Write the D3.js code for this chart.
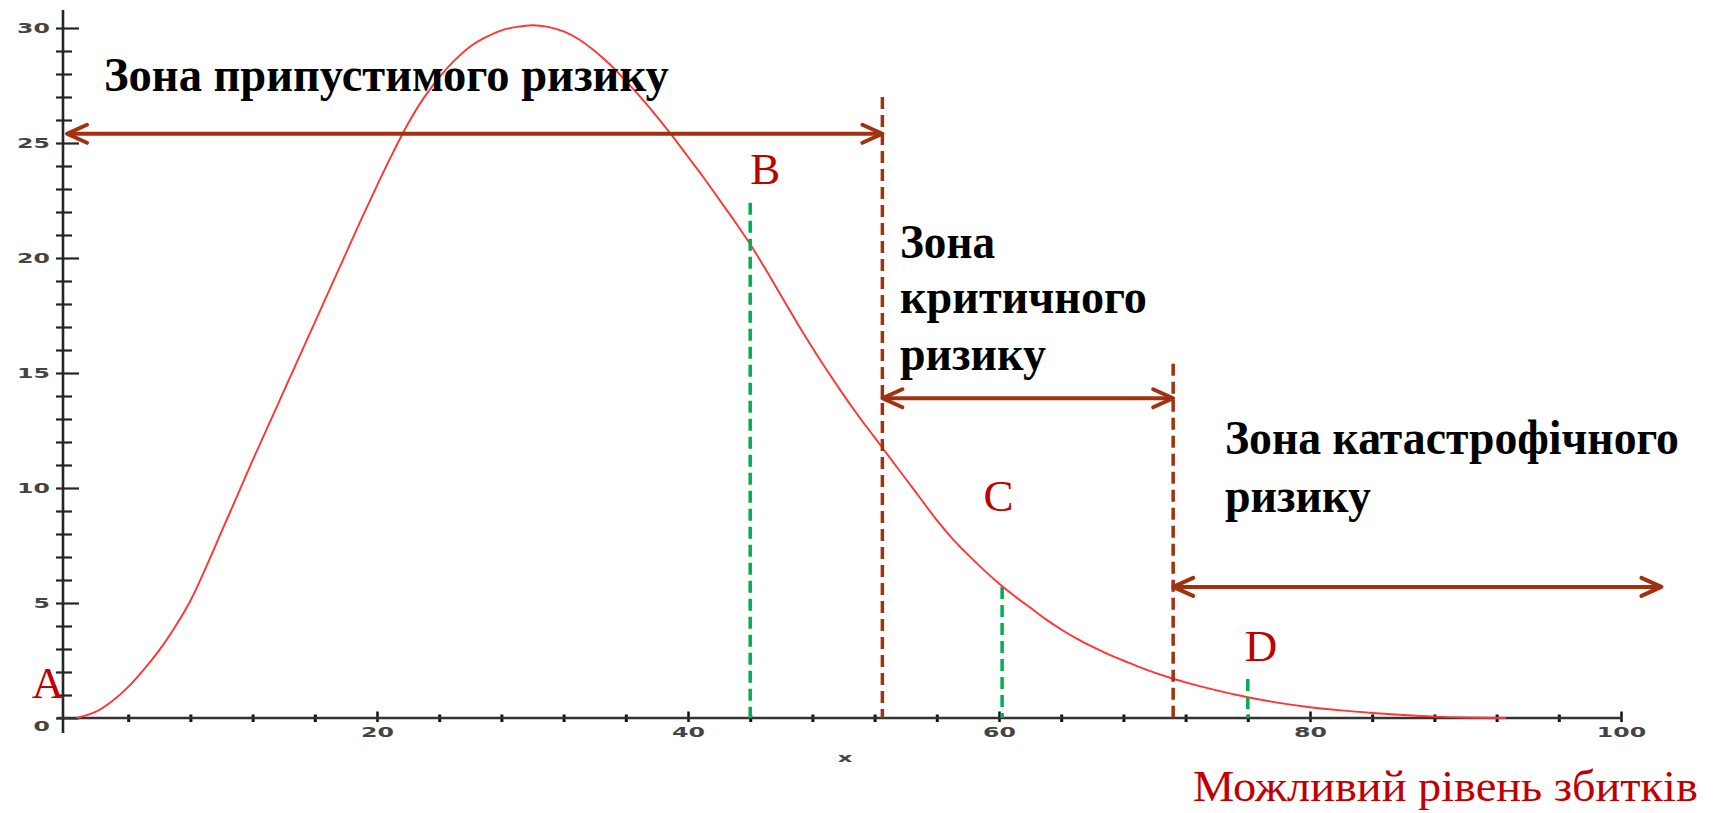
<!DOCTYPE html>
<html><head><meta charset="utf-8">
<script src="https://cdn.jsdelivr.net/npm/d3@7"></script>
<style>body{margin:0;background:#fff} svg{display:block}</style>
</head><body>
<svg id="chart" width="1715" height="813"></svg>
<script>
// ---- data ----
const curveX = [0.7, 2, 3, 4, 5, 6, 7, 8, 9, 10, 11, 12, 13, 14, 15, 16, 17, 18, 19, 20, 21, 22, 23, 24, 25, 26, 27, 28, 29, 30, 31, 32, 33, 34, 35, 36, 37, 38, 39, 40, 41, 42, 43, 44, 45, 46, 47, 48, 49, 50, 51, 52, 53, 54, 55, 56, 57, 58, 59, 60, 61, 62, 63, 64, 65, 66, 67, 68, 69, 70, 71, 72, 74, 76, 78, 80, 82, 84, 86, 88, 90, 92.6];
const curveY = [0.0, 0.3, 0.75, 1.35, 2.1, 2.95, 3.95, 5.1, 6.55, 8.1, 9.65, 11.2, 12.7, 14.2, 15.7, 17.2, 18.7, 20.2, 21.7, 23.15, 24.55, 25.85, 26.95, 27.85, 28.6, 29.2, 29.6, 29.9, 30.05, 30.12, 30.05, 29.85, 29.5, 29.0, 28.4, 27.7, 26.95, 26.15, 25.3, 24.4, 23.5, 22.55, 21.6, 20.6, 19.5, 18.35, 17.2, 16.1, 15.05, 14.05, 13.1, 12.2, 11.3, 10.4, 9.5, 8.6, 7.8, 7.1, 6.45, 5.85, 5.3, 4.8, 4.3, 3.85, 3.45, 3.1, 2.78, 2.5, 2.22, 1.97, 1.75, 1.55, 1.2, 0.9, 0.66, 0.47, 0.33, 0.22, 0.13, 0.06, 0.02, 0.0];
const xTickLabels = [20, 40, 60, 80, 100];
const yTickLabels = [0, 5, 10, 15, 20, 25, 30];
const zoneBounds = [0, 52.5, 71.2, 102.6];
const zoneArrowY = [25.4, 13.9, 5.7];
const boundaryTop = [27.0, 15.4];
const markerX = [44.0, 60.2, 76.0];
const markerTop = [22.4, 5.7, 1.7];
const pointLabels = ["A", "B", "C", "D"];
const zoneLabels = [["Зона припустимого ризику"], ["Зона", "критичного", "ризику"], ["Зона катастрофічного", "ризику"]];
const xAxisTitle = "x";
const bottomCaption = "Можливий рівень збитків";

// ---- setup ----
const svg = d3.select("#chart");
const x = d3.scaleLinear().domain([0, 100]).range([66, 1621]);
const y = d3.scaleLinear().domain([0, 30]).range([718, 28]);
const brown = "#a2310f", green = "#00b050", red = "#c00000";
const axisColor = "#262626", labelColor = "#444";
const yAxisX = x(0) - 3;

function chevron(g, tipX, tipY, dir) {
  g.append("path")
    .attr("d", `M${tipX - dir * 20},${tipY - 9} L${tipX},${tipY} L${tipX - dir * 20},${tipY + 9}`)
    .attr("fill", "none").attr("stroke", brown).attr("stroke-width", 4)
    .attr("stroke-linecap", "round").attr("stroke-linejoin", "round");
}

function fitText(sel, target) {
  const len = sel.node().getComputedTextLength();
  const s = target / len;
  const tx = +sel.attr("data-x"), ty = +sel.attr("data-y");
  sel.attr("transform", `translate(${tx},${ty}) scale(${s},1)`);
}

// ---- axes ----
const yMinor = d3.range(0, 31).filter(v => v % 5 !== 0);
const gyMinor = svg.append("g").attr("transform", `translate(${yAxisX},0)`)
  .call(d3.axisLeft(y).tickValues(yMinor).tickFormat("").tickSizeOuter(0));
gyMinor.select(".domain").remove();
gyMinor.selectAll(".tick line").attr("x1", -7).attr("x2", 9).attr("stroke", axisColor).attr("stroke-width", 2.2);

const gy = svg.append("g").attr("transform", `translate(${yAxisX},0)`)
  .call(d3.axisLeft(y).tickValues(yTickLabels).tickSizeOuter(0));
gy.select(".domain").remove();
gy.selectAll(".tick line").attr("x1", -7).attr("x2", 16).attr("stroke", axisColor).attr("stroke-width", 2.2);
gy.selectAll(".tick text")
  .attr("x", 0).attr("dy", "0.35em")
  .attr("transform", d => `translate(-13,${d === 0 ? 8 : 0}) scale(1.75,1)`)
  .attr("font-family", "DejaVu Sans").attr("font-weight", "bold").attr("font-size", 13.5)
  .attr("fill", labelColor).attr("text-anchor", "end");

svg.append("line").attr("x1", yAxisX).attr("x2", yAxisX).attr("y1", 10).attr("y2", 733)
  .attr("stroke", axisColor).attr("stroke-width", 2.6);

const xMinor = d3.range(4, 100, 4).filter(v => v % 20 !== 0);
const gxMinor = svg.append("g").attr("transform", `translate(0,${y(0)})`)
  .call(d3.axisBottom(x).tickValues(xMinor).tickFormat("").tickSizeOuter(0));
gxMinor.select(".domain").remove();
gxMinor.selectAll(".tick line").attr("y1", -3.5).attr("y2", 4).attr("stroke", "#111").attr("stroke-width", 3);

const gx = svg.append("g").attr("transform", `translate(0,${y(0)})`)
  .call(d3.axisBottom(x).tickValues(xTickLabels).tickSizeOuter(0));
gx.select(".domain").remove();
gx.selectAll(".tick line").attr("y1", -6.5).attr("y2", 4).attr("stroke", "#111").attr("stroke-width", 2.5);
gx.selectAll(".tick text")
  .attr("y", 0).attr("dy", "0.35em")
  .attr("transform", "translate(0,14) scale(1.75,1)")
  .attr("font-family", "DejaVu Sans").attr("font-weight", "bold").attr("font-size", 13.5)
  .attr("fill", labelColor).attr("text-anchor", "middle");

svg.append("line").attr("x1", yAxisX - 6).attr("x2", x(100) + 1).attr("y1", y(0)).attr("y2", y(0))
  .attr("stroke", "#333").attr("stroke-width", 2.4);

svg.append("text").attr("transform", `translate(${x(50.1)},${y(0) + 39}) scale(1.75,1)`)
  .attr("text-anchor", "middle").attr("dy", "0.35em")
  .attr("font-family", "DejaVu Sans").attr("font-weight", "bold").attr("font-size", 13)
  .attr("fill", labelColor).text(xAxisTitle);

// ---- curve ----
const pts = curveX.map((v, i) => [v, curveY[i]]);
svg.append("path").datum(pts)
  .attr("d", d3.line().x(d => x(d[0])).y(d => y(d[1])).curve(d3.curveCatmullRom))
  .attr("fill", "none").attr("stroke", "#ff3535").attr("stroke-width", 1.9);

// ---- dashed boundaries ----
boundaryTop.forEach((t, i) => {
  svg.append("line").attr("x1", x(zoneBounds[i + 1])).attr("x2", x(zoneBounds[i + 1]))
    .attr("y1", y(t)).attr("y2", y(0))
    .attr("stroke", brown).attr("stroke-width", 3.5).attr("stroke-dasharray", "12,6");
});
markerX.forEach((m, i) => {
  svg.append("line").attr("x1", x(m)).attr("x2", x(m))
    .attr("y1", y(markerTop[i])).attr("y2", y(0))
    .attr("stroke", green).attr("stroke-width", 3.5).attr("stroke-dasharray", "12,6");
});

// ---- zone arrows ----
zoneArrowY.forEach((ay, i) => {
  const g = svg.append("g");
  const x0 = x(zoneBounds[i]) + (i === 0 ? 1 : 0), x1 = x(zoneBounds[i + 1]), yy = y(ay);
  g.append("line").attr("x1", x0 + 2).attr("x2", x1 - 2).attr("y1", yy).attr("y2", yy)
    .attr("stroke", brown).attr("stroke-width", 4);
  chevron(g, x0, yy, -1);
  chevron(g, x1, yy, 1);
});

// ---- zone labels ----
const zoneTextPos = [
  { x: 104, y: [91], w: [565] },
  { x: 900, y: [258, 313, 370], w: [95, 247, 146] },
  { x: 1225, y: [454, 512], w: [454, 146] }
];
zoneLabels.forEach((lines, i) => {
  lines.forEach((ln, j) => {
    const t = svg.append("text")
      .attr("data-x", zoneTextPos[i].x).attr("data-y", zoneTextPos[i].y[j])
      .attr("font-family", "Liberation Serif").attr("font-weight", "bold").attr("font-size", 48)
      .attr("fill", "#000").text(ln);
    fitText(t, zoneTextPos[i].w[j]);
  });
});

// ---- point labels ----
const pointPos = [[-2.2, 0.87], [44.0, 23.2], [59.0, 9.0], [75.8, 2.47]];
pointLabels.forEach((p, i) => {
  svg.append("text").attr("x", x(pointPos[i][0])).attr("y", y(pointPos[i][1]))
    .attr("font-family", "Liberation Serif").attr("font-size", 45)
    .attr("fill", red).text(p);
});

// ---- caption ----
const cap = svg.append("text").attr("data-x", 1193).attr("data-y", 801)
  .attr("font-family", "Liberation Serif").attr("font-size", 44)
  .attr("fill", red).text(bottomCaption);
fitText(cap, 505);
</script>
</body></html>
